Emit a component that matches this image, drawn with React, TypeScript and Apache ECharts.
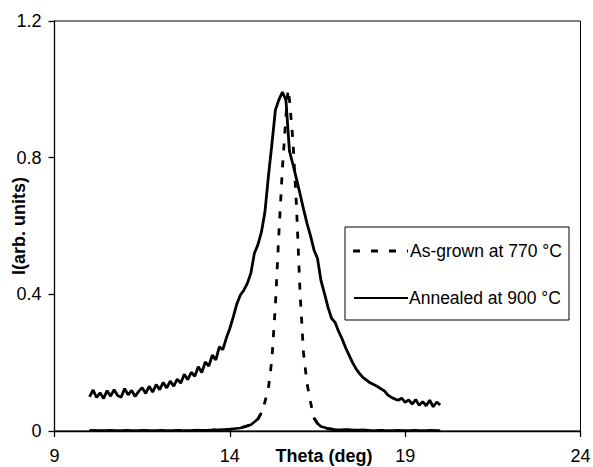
import React, { useEffect, useRef } from 'react';
import * as echarts from 'echarts';

// Annealed at 900 °C (solid, noisy rocking curve)
const annealedTheta = [
  10.0, 10.1, 10.2, 10.3, 10.4, 10.5, 10.6, 10.7, 10.8, 10.9,
  11.0, 11.1, 11.2, 11.3, 11.4, 11.5, 11.6, 11.7, 11.8, 11.9,
  12.0, 12.1, 12.2, 12.3, 12.4, 12.5, 12.6, 12.7, 12.8, 12.9,
  13.0, 13.1, 13.2, 13.3, 13.4, 13.5, 13.6, 13.7, 13.8, 13.9,
  14.0, 14.1, 14.2, 14.3, 14.4, 14.5, 14.6, 14.7, 14.8, 14.9,
  15.0, 15.1, 15.2, 15.3, 15.4, 15.5, 15.6, 15.7, 15.8, 15.9,
  16.0, 16.1, 16.2, 16.3, 16.4, 16.5, 16.6, 16.7, 16.8, 16.9,
  17.0, 17.1, 17.2, 17.3, 17.4, 17.5, 17.6, 17.7, 17.8, 17.9,
  18.0, 18.1, 18.2, 18.3, 18.4, 18.5, 18.6, 18.7, 18.8, 18.9,
  19.0, 19.1, 19.2, 19.3, 19.4, 19.5, 19.6, 19.7, 19.8, 19.9,
  20.0,
];
const annealedI = [
  0.100, 0.120, 0.098, 0.112, 0.095, 0.118, 0.102, 0.121, 0.104, 0.099,
  0.124, 0.106, 0.119, 0.101, 0.116, 0.127, 0.110, 0.131, 0.114, 0.136,
  0.121, 0.142, 0.126, 0.146, 0.131, 0.152, 0.140, 0.166, 0.150, 0.172,
  0.160, 0.188, 0.171, 0.202, 0.190, 0.222, 0.208, 0.246, 0.238, 0.272,
  0.300, 0.335, 0.372, 0.398, 0.412, 0.432, 0.462, 0.520, 0.545, 0.582,
  0.640, 0.745, 0.840, 0.940, 0.970, 0.992, 0.968, 0.820, 0.780, 0.738,
  0.695, 0.650, 0.608, 0.572, 0.530, 0.505, 0.440, 0.402, 0.362, 0.330,
  0.318, 0.292, 0.270, 0.244, 0.222, 0.200, 0.182, 0.168, 0.156, 0.149,
  0.141, 0.136, 0.131, 0.124, 0.118, 0.106, 0.099, 0.094, 0.090, 0.096,
  0.084, 0.091, 0.079, 0.092, 0.075, 0.086, 0.074, 0.090, 0.071, 0.085,
  0.076,
];

// As-grown at 770 °C (dashed, narrow peak)
const asGrownTheta = [
  10, 11, 12, 13, 13.5, 14, 14.3, 14.6, 14.8, 14.9,
  15.0, 15.1, 15.2, 15.3, 15.4, 15.5, 15.6, 15.66, 15.7, 15.8,
  15.9, 16.0, 16.1, 16.2, 16.3, 16.4, 16.5, 16.6, 16.8, 17,
  18, 19, 20,
];
const asGrownI = [
  0.001, 0.001, 0.001, 0.002, 0.003, 0.005, 0.009, 0.018, 0.035, 0.053,
  0.085, 0.125, 0.21, 0.37, 0.58, 0.77, 0.92, 1.0, 0.97, 0.85,
  0.66, 0.41, 0.23, 0.14, 0.085, 0.038, 0.022, 0.013, 0.007, 0.004,
  0.002, 0.001, 0.001,
];

const xTicks = { min: 9, max: 24, interval: 5 };
const yTicks = { min: 0, max: 1.2, interval: 0.4 };

const SERIES_SOLID = 'Annealed at 900 °C';
const SERIES_DASHED = 'As-grown at 770 °C';
const legendLabels = [SERIES_DASHED, SERIES_SOLID];

const FONT = 'Arial, "Liberation Sans", sans-serif';

export default function App() {
  const ref = useRef<HTMLDivElement>(null);

  useEffect(() => {
    const chart = echarts.init(ref.current!, null, { renderer: 'svg' });
    const solidData = annealedTheta.map((t, i) => [t, annealedI[i]]);
    const dashedData = asGrownTheta.map((t, i) => [t, asGrownI[i]]);
    const tailData = asGrownTheta.map((t, i) => [t, asGrownI[i] <= 0.06 ? asGrownI[i] : '-']);

    chart.setOption({
      animation: false,
      backgroundColor: '#fff',
      grid: {
        left: 54.5,
        right: 12.5,
        top: 21,
        bottom: 36,
        show: true,
        borderColor: '#000',
        borderWidth: 1,
        containLabel: false,
        outerBoundsMode: 'none',
      },
      xAxis: {
        type: 'value',
        min: xTicks.min,
        max: xTicks.max,
        interval: xTicks.interval,
        axisLine: { lineStyle: { color: '#000', width: 1.3 } },
        axisTick: { show: true, length: 6, lineStyle: { color: '#000', width: 1.3 } },
        axisLabel: { fontSize: 18, color: '#000', margin: 16, fontFamily: FONT },
        splitLine: { show: false },
        name: 'Theta (deg)',
        nameLocation: 'middle',
        nameGap: 16,
        nameMoveOverlap: false,
        nameTextStyle: {
          fontWeight: 'bold',
          fontSize: 18,
          color: '#000',
          fontFamily: FONT,
          padding: [0, 0, 0, 13],
        },
      },
      yAxis: {
        type: 'value',
        min: yTicks.min,
        max: yTicks.max,
        interval: yTicks.interval,
        axisLine: { show: true, lineStyle: { color: '#000', width: 1.3 } },
        axisTick: { show: true, length: 6, lineStyle: { color: '#000', width: 1.3 } },
        axisLabel: { fontSize: 18, color: '#000', margin: 13, fontFamily: FONT },
        splitLine: { show: false },
        name: 'I(arb. units)',
        nameLocation: 'middle',
        nameGap: 27,
        nameRotate: 90,
        nameMoveOverlap: false,
        nameTextStyle: { fontWeight: 'bold', fontSize: 18, color: '#000', fontFamily: FONT },
      },
      graphic: [
        {
          type: 'rect',
          shape: { x: 345, y: 227, width: 224, height: 93 },
          style: { fill: '#fff', stroke: '#000', lineWidth: 1 },
          z: 10,
        },
        {
          type: 'line',
          shape: { x1: 353, y1: 251, x2: 408, y2: 251 },
          style: { stroke: '#000', lineWidth: 3, lineDash: [7, 11] },
          z: 11,
        },
        {
          type: 'line',
          shape: { x1: 354, y1: 298, x2: 408, y2: 298 },
          style: { stroke: '#000', lineWidth: 2.2 },
          z: 11,
        },
        {
          type: 'text',
          x: 410,
          y: 251,
          style: {
            text: legendLabels[0],
            fontSize: 17.5,
            fontFamily: FONT,
            fill: '#000',
            verticalAlign: 'middle',
          },
          z: 11,
        },
        {
          type: 'text',
          x: 409,
          y: 298,
          style: {
            text: legendLabels[1],
            fontSize: 17.5,
            fontFamily: FONT,
            fill: '#000',
            verticalAlign: 'middle',
          },
          z: 11,
        },
      ],
      series: [
        {
          name: SERIES_SOLID,
          type: 'line',
          data: solidData,
          symbol: 'none',
          lineStyle: { color: '#000', width: 2.8 },
          itemStyle: { color: '#000' },
        },
        {
          name: SERIES_DASHED,
          type: 'line',
          data: dashedData,
          symbol: 'none',
          lineStyle: { color: '#000', width: 2.8, type: [7, 10] },
          itemStyle: { color: '#000' },
        },
        {
          name: 'tail',
          type: 'line',
          data: tailData,
          symbol: 'none',
          connectNulls: false,
          lineStyle: { color: '#000', width: 2.6 },
          itemStyle: { color: '#000' },
        },
      ],
    });
    return () => chart.dispose();
  }, []);

  return (
    <div
      ref={ref}
      style={{ position: 'absolute', left: 0, top: 0, width: 593, height: 467, background: '#fff' }}
    />
  );
}
